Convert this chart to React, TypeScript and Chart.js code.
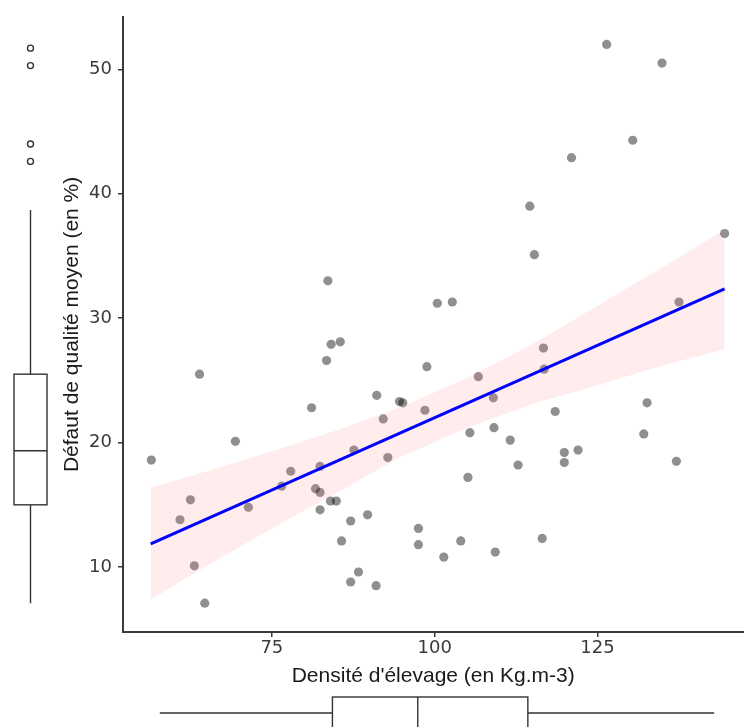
import React, { useEffect, useRef } from 'react';
import { Chart, registerables } from 'chart.js';

Chart.register(...registerables);

// ---- Data ----
const densite: number[] = [
  83.6, 126.4, 134.9, 130.4, 121.0, 114.6, 115.3, 144.5, 100.4, 102.7,
  137.5, 84.1, 85.5, 83.4, 63.9, 98.8, 91.1, 94.6, 95.1, 81.1,
  98.5, 92.1, 69.4, 56.5, 92.8, 87.6, 77.9, 82.4, 76.5, 81.7,
  82.4, 62.5, 84.0, 84.9, 71.4, 82.4, 60.9, 89.7, 87.1, 97.5,
  85.7, 97.5, 63.1, 88.3, 87.1, 91.0, 64.7, 116.7, 106.7, 116.8,
  109.0, 105.4, 109.1, 111.6, 118.5, 132.6, 132.1, 119.9, 122.0, 119.9,
  137.1, 112.8, 105.1, 104.0, 101.4, 109.3, 116.5,
];
const defaut: number[] = [
  33.0, 52.0, 50.5, 44.3, 42.9, 39.0, 35.1, 36.8, 31.2, 31.3,
  31.3, 27.9, 28.1, 26.6, 25.5, 26.1, 23.8, 23.3, 23.2, 22.8,
  22.6, 21.9, 20.1, 18.6, 18.8, 19.4, 17.7, 18.1, 16.5, 16.3,
  16.0, 15.4, 15.3, 15.3, 14.8, 14.6, 13.8, 14.2, 13.7, 13.1,
  12.1, 11.8, 10.1, 9.6, 8.8, 8.5, 7.1, 27.6, 25.3, 25.9,
  23.6, 20.8, 21.2, 20.2, 22.5, 23.2, 20.7, 19.2, 19.4, 18.4,
  18.5, 18.2, 17.2, 12.1, 10.8, 11.2, 12.3,
];

// regression line (end points) and confidence band
const fitX: number[] = [56.4, 144.5];
const fitY: number[] = [11.87, 32.35];
const bandX: number[] = [56.4, 65, 75, 85, 95, 105, 115, 125, 135, 144.5];
const bandLow: number[] = [7.4, 10.1, 13.1, 16.0, 18.9, 21.2, 23.1, 24.6, 26.2, 27.5];
const bandHigh: number[] = [16.4, 17.7, 19.3, 21.0, 22.9, 25.2, 27.9, 31.0, 34.1, 37.1];

// marginal boxplots: [whisker low, Q1, median, Q3, whisker high]
const yBoxStats: number[] = [7.1, 15.0, 19.34, 25.5, 38.7];
const yOutliers: number[] = [42.6, 44.0, 50.3, 51.7];
const xBoxStats: number[] = [57.8, 84.3, 97.4, 114.3, 142.9];

// axes
const xTicks: number[] = [75, 100, 125];
const yTicks: number[] = [10, 20, 30, 40, 50];
const xRange: number[] = [52.15, 147.39];
const yRange: number[] = [4.78, 54.22];

const xTitle = "Densité d'élevage (en Kg.m-3)";
const yTitle = 'Défaut de qualité moyen (en %)';

const boxplotPlugin = {
  id: 'marginalBoxplots',
  afterDraw(chart: any) {
    const { ctx } = chart;
    const xs = chart.scales.x;
    const ys = chart.scales.y;
    ctx.save();
    ctx.strokeStyle = '#333333';
    ctx.lineWidth = 1.4;

    // left vertical boxplot
    const cx = 30.5;
    const hw = 16.5;
    const [lo, q1, med, q3, hi] = yBoxStats.map((v) => ys.getPixelForValue(v));
    ctx.beginPath();
    ctx.moveTo(cx, lo); ctx.lineTo(cx, q1);
    ctx.moveTo(cx, q3); ctx.lineTo(cx, hi);
    ctx.stroke();
    ctx.strokeRect(cx - hw, q3, hw * 2, q1 - q3);
    ctx.beginPath();
    ctx.moveTo(cx - hw, med); ctx.lineTo(cx + hw, med);
    ctx.stroke();
    yOutliers.forEach((v) => {
      ctx.beginPath();
      ctx.arc(cx, ys.getPixelForValue(v), 3, 0, Math.PI * 2);
      ctx.stroke();
    });

    // bottom horizontal boxplot
    const cy = 713;
    const top = 697;
    const bottom = 740;
    const [xlo, xq1, xmed, xq3, xhi] = xBoxStats.map((v) => xs.getPixelForValue(v));
    ctx.beginPath();
    ctx.moveTo(xlo, cy); ctx.lineTo(xq1, cy);
    ctx.moveTo(xq3, cy); ctx.lineTo(xhi, cy);
    ctx.stroke();
    ctx.strokeRect(xq1, top, xq3 - xq1, bottom - top);
    ctx.beginPath();
    ctx.moveTo(xmed, top); ctx.lineTo(xmed, bottom);
    ctx.stroke();
    ctx.restore();
  },
};

const CANVAS_W = 748;
const CANVAS_H = 727;

export default function App() {
  const canvasRef = useRef<HTMLCanvasElement | null>(null);

  useEffect(() => {
    if (!canvasRef.current) return;
    const points = densite.map((x, i) => ({ x, y: defaut[i] }));
    const low = bandX.map((x, i) => ({ x, y: bandLow[i] }));
    const high = bandX.map((x, i) => ({ x, y: bandHigh[i] }));
    const fit = fitX.map((x, i) => ({ x, y: fitY[i] }));

    const chart = new Chart(canvasRef.current, {
      type: 'scatter',
      data: {
        datasets: [
          {
            label: 'points',
            data: points,
            backgroundColor: 'rgba(0,0,0,0.44)',
            borderWidth: 0,
            pointRadius: 4.6,
            order: 3,
          },
          {
            label: 'low',
            data: low,
            showLine: true,
            borderWidth: 0,
            borderColor: 'rgba(0,0,0,0)',
            pointRadius: 0,
            fill: false,
            order: 2,
          },
          {
            label: 'high',
            data: high,
            showLine: true,
            borderWidth: 0,
            borderColor: 'rgba(0,0,0,0)',
            backgroundColor: 'rgba(248,118,109,0.13)',
            pointRadius: 0,
            fill: '-1',
            order: 2,
          },
          {
            label: 'fit',
            data: fit,
            showLine: true,
            borderColor: '#0000ff',
            borderWidth: 3,
            pointRadius: 0,
            fill: false,
            order: 1,
          },
        ],
      } as any,
      options: {
        animation: false,
        responsive: false,
        devicePixelRatio: 1,
        layout: { padding: { top: 14, left: 0, right: 0, bottom: 0 } },
        plugins: {
          legend: { display: false },
          tooltip: { enabled: false },
        },
        scales: {
          x: {
            type: 'linear',
            min: xRange[0],
            max: xRange[1],
            afterBuildTicks: (s: any) => { s.ticks = xTicks.map((v) => ({ value: v })); },
            afterFit: (s: any) => { s.height = 95; },
            grid: { drawOnChartArea: false, drawTicks: true, tickLength: 5, color: '#3a3a3a', lineWidth: 1.5 },
            border: { display: true, color: '#3a3a3a', width: 2 },
            ticks: {
              padding: 1,
              color: '#3a3a3a',
              font: { family: 'DejaVu Sans', size: 18 },
              maxRotation: 0,
              autoSkip: false,
            },
            title: {
              display: true,
              text: xTitle,
              color: '#1a1a1a',
              font: { family: 'Liberation Sans', size: 21 },
              padding: { top: 0, bottom: 38 },
            },
          },
          y: {
            type: 'linear',
            min: yRange[0],
            max: yRange[1],
            afterBuildTicks: (s: any) => { s.ticks = yTicks.map((v) => ({ value: v })); },
            afterFit: (s: any) => { s.width = 123; },
            grid: { drawOnChartArea: false, drawTicks: true, tickLength: 5, color: '#3a3a3a', lineWidth: 1.5 },
            border: { display: true, color: '#3a3a3a', width: 2 },
            ticks: {
              padding: 6,
              color: '#3a3a3a',
              font: { family: 'DejaVu Sans', size: 18 },
              autoSkip: false,
            },
            title: {
              display: true,
              text: yTitle,
              color: '#1a1a1a',
              font: { family: 'Liberation Sans', size: 21 },
              padding: { top: 60, bottom: 0 },
            },
          },
        },
      } as any,
      plugins: [boxplotPlugin],
    });
    return () => chart.destroy();
  }, []);

  return (
    <div
      style={{
        position: 'absolute',
        left: 0,
        top: 0,
        width: 744,
        height: 727,
        overflow: 'hidden',
        background: '#ffffff',
      }}
    >
      <canvas
        ref={canvasRef}
        width={CANVAS_W}
        height={CANVAS_H}
        style={{ display: 'block', width: CANVAS_W, height: CANVAS_H }}
      />
    </div>
  );
}
